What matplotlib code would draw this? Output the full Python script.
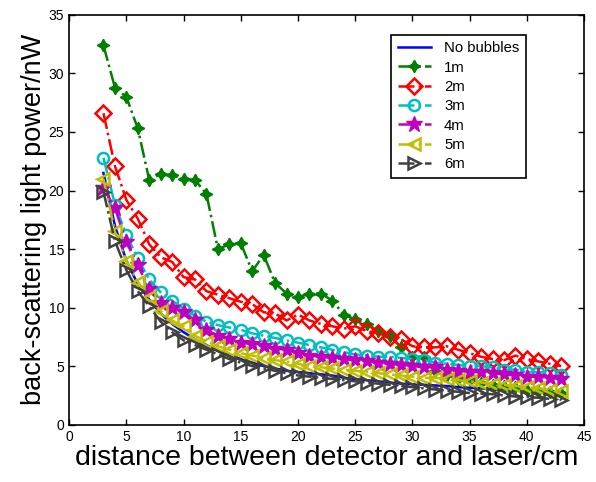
import numpy as np
import matplotlib
matplotlib.use("Agg")
import matplotlib.pyplot as plt

# --- Data ---
distance = list(range(3, 44))

no_bubbles = [21.5, 17.0, 14.0, 12.0, 10.7, 9.5, 8.6, 7.9, 7.3, 6.8, 6.3, 6.0, 5.6, 5.3, 5.0,
              4.8, 4.6, 4.5, 4.4, 4.3, 4.2, 4.0, 3.9, 3.8, 3.7, 3.6, 3.5, 3.45, 3.4, 3.35, 3.3,
              3.2, 3.15, 3.1, 3.0, 2.95, 2.9, 2.85, 2.8, 2.75, 2.65]
m1 = [32.4, 28.8, 28.0, 25.3, 20.9, 21.4, 21.3, 21.0, 20.9, 19.7, 15.0, 15.4, 15.5, 13.1, 14.5,
      12.1, 11.2, 10.9, 11.2, 11.2, 10.6, 9.4, 9.0, 8.6, 8.0, 7.6, 6.6, 5.8, 5.8, 4.6, 4.2,
      3.9, 3.8, 3.6, 3.4, 3.3, 3.2, 3.0, 2.9, 2.8, 2.7]
m2 = [26.6, 22.1, 19.2, 17.6, 15.4, 14.3, 13.9, 12.6, 12.4, 11.4, 11.1, 10.8, 10.5, 10.3, 9.6,
      9.5, 8.9, 9.4, 8.9, 8.6, 8.4, 8.2, 8.4, 8.0, 7.8, 7.5, 7.3, 6.7, 6.6, 6.6, 6.7,
      6.4, 6.1, 5.8, 5.6, 5.5, 5.9, 5.6, 5.4, 5.2, 5.0]
m3 = [22.8, 18.8, 16.2, 14.2, 12.4, 11.3, 10.6, 9.9, 9.3, 8.8, 8.5, 8.3, 8.1, 7.8, 7.6,
      7.4, 7.2, 7.0, 6.8, 6.6, 6.4, 6.2, 6.0, 5.9, 5.8, 5.8, 5.7, 5.6, 5.5, 5.3, 5.2,
      5.1, 5.0, 5.0, 4.9, 4.7, 4.7, 4.5, 4.5, 4.4, 4.2]
m4 = [20.2, 18.5, 15.6, 13.6, 11.6, 10.4, 10.0, 9.6, 8.9, 8.1, 7.6, 7.3, 7.0, 6.9, 6.7,
      6.5, 6.4, 6.1, 5.9, 5.8, 5.7, 5.6, 5.5, 5.4, 5.3, 5.2, 5.1, 5.0, 4.9, 4.9, 4.7,
      4.6, 4.5, 4.5, 4.4, 4.3, 4.2, 4.1, 4.1, 4.0, 3.9]
m5 = [21.0, 16.5, 14.0, 12.2, 10.9, 9.7, 8.9, 8.4, 7.6, 7.1, 6.7, 6.4, 6.1, 5.9, 5.7,
      5.5, 5.4, 5.2, 5.0, 4.9, 4.8, 4.7, 4.6, 4.5, 4.4, 4.3, 4.2, 4.1, 4.0, 4.0, 3.9,
      3.8, 3.7, 3.6, 3.5, 3.4, 3.3, 3.2, 3.1, 3.0, 2.9]
m6 = [19.9, 15.7, 13.2, 11.4, 10.1, 8.8, 7.9, 7.2, 6.8, 6.4, 6.0, 5.6, 5.3, 5.0, 4.8,
      4.6, 4.4, 4.2, 4.1, 4.0, 3.9, 3.8, 3.7, 3.6, 3.5, 3.4, 3.3, 3.2, 3.1, 3.0, 2.9,
      2.8, 2.7, 2.65, 2.6, 2.5, 2.4, 2.35, 2.3, 2.2, 2.1]

labels = ["No bubbles", "1m", "2m", "3m", "4m", "5m", "6m"]

plt.rcParams['font.family'] = ['Liberation Sans', 'DejaVu Sans']

fig = plt.figure(figsize=(5.96, 4.82), dpi=100)
ax = fig.add_axes([0.116, 0.119, 0.864, 0.850])

ax.plot(distance, no_bubbles, '-', color='#0000ff', lw=1.8, label=labels[0])
ax.plot(distance, m1, '-.', color='#008000', lw=1.8, marker=(4, 1, 0), ms=9,
        mfc='#008000', mec='#008000', label=labels[1])
ax.plot(distance, m2, '-.', color='#ff0000', lw=1.8, marker='D', ms=8,
        mfc='none', mec='#ff0000', mew=1.8, label=labels[2])
ax.plot(distance, m3, '-.', color='#00bfbf', lw=1.8, marker='o', ms=8,
        mfc='none', mec='#00bfbf', mew=1.8, label=labels[3])
ax.plot(distance, m4, '-.', color='#bf00bf', lw=1.8, marker='*', ms=12,
        mfc='#bf00bf', mec='#bf00bf', label=labels[4])
ax.plot(distance, m5, '-.', color='#bfbf00', lw=1.8, marker='<', ms=9,
        mfc='none', mec='#bfbf00', mew=1.8, label=labels[5])
ax.plot(distance, m6, '-.', color='#404040', lw=1.8, marker='>', ms=9,
        mfc='none', mec='#404040', mew=1.8, label=labels[6])

ax.set_xlim(0, 45)
ax.set_ylim(0, 35)
ax.set_xticks(range(0, 46, 5))
ax.set_yticks(range(0, 36, 5))
ax.tick_params(direction='in', top=True, right=True, labelsize=10, length=4, width=1)
for s in ax.spines.values():
    s.set_linewidth(1.2)

ax.set_xlabel("distance between detector and laser/cm", fontsize=20.5, labelpad=1)
ax.set_ylabel("back-scattering light power/nW", fontsize=19.5, labelpad=1)

leg = ax.legend(loc='upper left', bbox_to_anchor=(0.617, 0.963), fontsize=10.7,
                frameon=True, fancybox=False, edgecolor='black', framealpha=1,
                borderpad=0.45, labelspacing=0.36, handlelength=2.2, handletextpad=0.9,
                borderaxespad=0.3)
leg.get_frame().set_linewidth(1.2)

fig.savefig("out.png", dpi=100)
